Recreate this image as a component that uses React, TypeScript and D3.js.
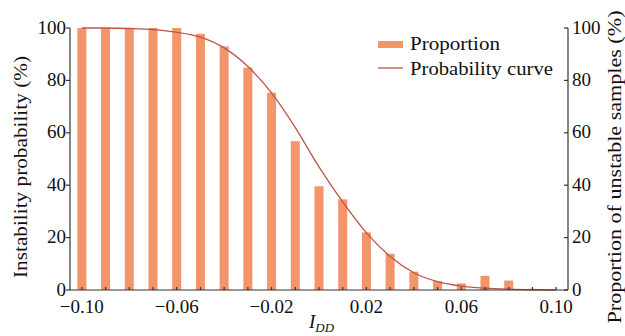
import React from 'react'
import * as d3 from 'd3'

// bar positions (I_DD) and proportion of unstable samples (%)
const barX = [-0.1, -0.09, -0.08, -0.07, -0.06, -0.05, -0.04, -0.03, -0.02, -0.01, 0, 0.01, 0.02, 0.03, 0.04, 0.05, 0.06, 0.07, 0.08, 0.09]
const proportion = [100, 100, 100, 100, 100, 97.8, 93, 84.9, 75.3, 56.8, 39.6, 34.6, 22, 13.8, 7, 3.4, 2.5, 5.4, 3.6, 0.5]

// probability curve
const curveX = [-0.1, -0.09, -0.08, -0.07, -0.06, -0.05, -0.04, -0.03, -0.02, -0.01, 0, 0.01, 0.02, 0.03, 0.04, 0.05, 0.06, 0.07, 0.08, 0.09, 0.1]
const curveY = [100, 100, 99.8, 99.4, 98.4, 96.5, 92.4, 85.3, 75.2, 62, 47, 33.6, 21.8, 12.8, 6.6, 3.2, 1.5, 0.7, 0.3, 0.1, 0]

const xTicks = [-0.1, -0.06, -0.02, 0.02, 0.06, 0.1]
const yTicks = [0, 20, 40, 60, 80, 100]

const W = 625
const H = 336
const margin = { left: 70, right: 57, top: 28, bottom: 46 }
const barColor = '#f3956a'
const curveColor = '#bc5449'
const axisColor = '#333'
const font = '"Liberation Serif", "Times New Roman", serif'

const App = () => {
  const x = d3
    .scaleLinear()
    .domain([-0.105, 0.105])
    .range([margin.left, W - margin.right])
  const y = d3
    .scaleLinear()
    .domain([0, 100])
    .range([H - margin.bottom, margin.top])

  const step = x(0.01) - x(0)
  const barW = step * 0.38

  const line = d3
    .line<number>()
    .x((d, i) => x(curveX[i]))
    .y((d) => y(d))
    .curve(d3.curveMonotoneX)

  const x0 = x.range()[0]
  const x1 = x.range()[1]
  const yb = y(0)
  const yt = y(100)
  const fmtX = d3.format('.2f')

  return (
    <svg
      width={W}
      height={H}
      style={{ position: 'absolute', left: 0, top: 0, background: '#fff' }}
      fontFamily={font}
    >
      {/* bars */}
      {barX.map((v, i) => (
        <rect
          key={'b' + i}
          x={x(v) - barW / 2}
          y={y(proportion[i])}
          width={barW}
          height={yb - y(proportion[i])}
          fill={barColor}
        />
      ))}

      {/* curve */}
      <path d={line(curveY) || ''} fill="none" stroke={curveColor} strokeWidth={1.3} />

      {/* axes */}
      <g stroke={axisColor} strokeWidth={1.2} fill="none">
        <line x1={x0} x2={x0} y1={yt} y2={yb} />
        <line x1={x1} x2={x1} y1={yt} y2={yb} />
        <line x1={x0} x2={x1} y1={yb} y2={yb} />
        {yTicks.map((t) => (
          <line key={'lt' + t} x1={x0 - 4} x2={x0} y1={y(t)} y2={y(t)} />
        ))}
        {yTicks.map((t) => (
          <line key={'rt' + t} x1={x1 - 4} x2={x1} y1={y(t)} y2={y(t)} />
        ))}
        {curveX.map((t) => (
          <line key={'xt' + t} x1={x(t)} x2={x(t)} y1={yb} y2={yb - 3} />
        ))}
      </g>

      {/* tick labels */}
      <g fontSize={19} fill="#111">
        {yTicks.map((t) => (
          <text key={'ll' + t} x={x0 - 4} y={y(t) - 1} dy="0.35em" textAnchor="end">
            {t}
          </text>
        ))}
        {yTicks.map((t) => (
          <text key={'rl' + t} x={x1 + 4} y={y(t) - 1} dy="0.35em" textAnchor="start">
            {t}
          </text>
        ))}
        {xTicks.map((t) => (
          <text key={'xl' + t} x={x(t)} y={yb + 23} textAnchor="middle">
            {fmtX(t)}
          </text>
        ))}
      </g>

      {/* axis titles */}
      <text
        transform={`translate(27,${(yt + yb) / 2 + 8}) rotate(-90)`}
        textAnchor="middle"
        fontSize={18}
        textLength={222}
        lengthAdjust="spacingAndGlyphs"
        fill="#111"
      >
        Instability probability (%)
      </text>
      <text
        transform={`translate(621,${(yt + yb) / 2 + 8}) rotate(-90)`}
        textAnchor="middle"
        fontSize={18}
        textLength={313}
        lengthAdjust="spacingAndGlyphs"
        fill="#111"
      >
        Proportion of unstable samples (%)
      </text>
      <text x={309} y={328} fontSize={19} fontStyle="italic" fill="#111">
        I<tspan fontSize={13} dy={4}>DD</tspan>
      </text>

      {/* legend */}
      <rect x={378} y={41} width={25} height={7} fill={barColor} />
      <text x={410} y={50} fontSize={19} textLength={90} lengthAdjust="spacingAndGlyphs" fill="#111">
        Proportion
      </text>
      <line x1={378} x2={403} y1={68} y2={68} stroke={curveColor} strokeWidth={1.3} />
      <text x={410} y={75} fontSize={19} textLength={143} lengthAdjust="spacingAndGlyphs" fill="#111">
        Probability curve
      </text>
    </svg>
  )
}

export default App
